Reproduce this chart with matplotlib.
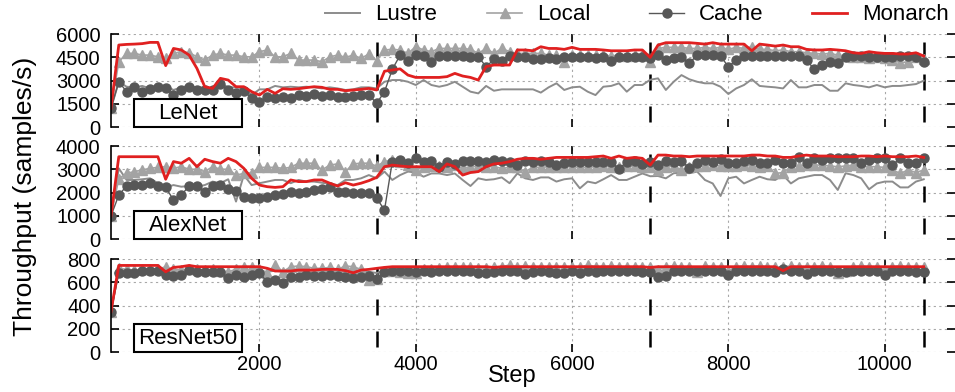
import numpy as np
import matplotlib.pyplot as plt
from matplotlib.patches import Rectangle

plt.rcParams['font.family'] = ['Liberation Sans', 'DejaVu Sans']

# one sample every 100 steps, three epochs of 3500 steps
steps = np.arange(100, 10600, 100)
epoch_ends = [3500, 7000, 10500]

models = ['LeNet', 'AlexNet', 'ResNet50']
yticks = {
    'LeNet': [0, 1500, 3000, 4500, 6000],
    'AlexNet': [0, 1000, 2000, 3000, 4000],
    'ResNet50': [0, 200, 400, 600, 800],
}
xticks = [2000, 4000, 6000, 8000, 10000]

# throughput (samples/s)
lenet_lustre = [
    1200, 2920, 2600, 2560, 2650, 2490, 2560, 2650, 2390, 2560,
    2650, 2560, 2560, 2490, 2820, 2560, 2560, 2490, 2060, 2430,
    2430, 2650, 2560, 2600, 2560, 2600, 2560, 2490, 2560, 2490,
    2390, 2430, 2560, 2560, 2490, 2920, 3030, 3030, 2920, 2710,
    3030, 2710, 2600, 2710, 2920, 2600, 2280, 2170, 2650, 2340,
    2430, 2430, 2430, 2430, 2430, 2220, 2560, 2820, 2390, 2560,
    2600, 2280, 2060, 2600, 2650, 2820, 2280, 2710, 2710, 3050,
    3140, 2390, 2920, 3350, 3080, 2920, 2820, 2820, 2600, 2130,
    2490, 2710, 3080, 2650, 2600, 2560, 2490, 3030, 2560, 2560,
    2710, 2710, 2340, 2340, 2820, 2710, 2650, 2560, 2710, 2560,
    2650, 2650, 2710, 2770, 2990]
lenet_local = [
    1200, 4210, 4750, 4750, 4640, 4640, 4530, 4430, 4750, 4860,
    4790, 4530, 4320, 4640, 4750, 4640, 4640, 4530, 4530, 4860,
    4970, 4530, 4530, 4750, 4320, 4320, 4320, 4210, 4530, 4640,
    4490, 4640, 4430, 4710, 4280, 4970, 5010, 4970, 4750, 5180,
    4970, 4860, 5070, 5070, 5070, 5070, 5010, 4750, 5070, 4750,
    5070, 4860, 4750, 4750, 4750, 4750, 4640, 4640, 4210, 4640,
    4640, 4640, 4640, 4640, 4580, 4640, 4580, 4640, 4640, 4210,
    5070, 5140, 5140, 5140, 5070, 5070, 5140, 5070, 5140, 5010,
    5140, 5070, 5180, 5010, 5010, 4920, 4970, 4860, 4860, 4790,
    4750, 4710, 4750, 4640, 4580, 4490, 4490, 4430, 4490, 4430,
    4320, 4150, 4210, 4490, 4360]
lenet_cache = [
    1200, 2920, 2280, 2560, 2280, 2430, 2560, 2490, 2060, 2390,
    2560, 2390, 2390, 2390, 2770, 2390, 2170, 2340, 1850, 1630,
    1910, 1850, 1960, 1850, 2060, 2000, 2130, 2000, 2060, 1910,
    1960, 2000, 2060, 2060, 1530, 2280, 3720, 4640, 4280, 4640,
    4580, 4210, 4580, 4580, 4580, 4580, 4540, 4540, 3890, 4360,
    4280, 4580, 4540, 4490, 4360, 4360, 4430, 4360, 4540, 4540,
    4540, 4490, 4430, 4490, 4280, 4490, 4540, 4540, 4540, 4430,
    4640, 4320, 4430, 4490, 4110, 4640, 4640, 4640, 4580, 3890,
    4320, 4580, 4580, 4580, 4580, 4580, 4580, 4580, 4580, 4320,
    3720, 4000, 4210, 4110, 4540, 4580, 4580, 4540, 4540, 4540,
    4540, 4580, 4580, 4540, 4210]
lenet_monarch = [
    1200, 5290, 5330, 5350, 5380, 5460, 5460, 3960, 5070, 4970,
    4640, 3780, 2600, 2490, 3140, 3030, 2600, 2600, 2280, 2060,
    2430, 2170, 2470, 2430, 2470, 2540, 2600, 2560, 2430, 2430,
    2340, 2390, 2430, 2490, 2390, 3600, 3680, 3750, 3350, 3200,
    3200, 3200, 3200, 3250, 3460, 3290, 3200, 3030, 3900, 4000,
    4000, 4000, 4970, 4970, 4920, 5180, 5070, 5070, 5010, 5140,
    5010, 5010, 5010, 4970, 4920, 4920, 4920, 4970, 4970, 4490,
    5290, 5440, 5440, 5440, 5440, 5400, 5350, 5440, 5350, 5350,
    5350, 5350, 4920, 5350, 5290, 5220, 5290, 5180, 5180, 5010,
    4970, 4970, 5010, 4970, 4920, 4790, 4750, 4860, 4790, 4750,
    4750, 4710, 4710, 4790, 4580]

alexnet_lustre = [
    990, 3040, 2540, 2540, 2570, 2610, 2400, 2220, 2320, 2250,
    2280, 2250, 2320, 2470, 2400, 2570, 1610, 2750, 2320, 2400,
    2470, 2540, 2540, 2400, 2540, 2470, 2470, 2420, 2370, 2320,
    2540, 2540, 2610, 2750, 2610, 2900, 2540, 2750, 2900, 2860,
    2680, 2820, 2820, 2750, 2820, 2540, 2280, 2610, 2540, 2570,
    2650, 2400, 2820, 2610, 2540, 2650, 2650, 2470, 2570, 2610,
    2180, 2470, 2400, 2570, 2750, 2540, 2540, 2680, 2820, 2700,
    2710, 2610, 2830, 2850, 2830, 2900, 2540, 2390, 1850, 2610,
    2680, 2390, 2540, 2680, 2570, 2540, 2750, 2390, 2610, 2680,
    2750, 2750, 2540, 2110, 2830, 2750, 2610, 2140, 2390, 2470,
    2470, 2220, 2220, 2470, 2570]
alexnet_local = [
    990, 2600, 2820, 2900, 2970, 3040, 3080, 3110, 3040, 3110,
    3000, 3000, 2900, 3110, 3000, 3000, 2750, 2820, 2850, 3080,
    3080, 3080, 3040, 3080, 3260, 3260, 3260, 2970, 3180, 3230,
    2900, 3230, 3260, 3260, 3130, 3330, 3400, 3330, 3180, 2970,
    3110, 3130, 3130, 3110, 3180, 3040, 3110, 3130, 3110, 3110,
    3040, 3080, 3080, 2900, 3080, 3080, 3110, 3110, 3110, 3110,
    3080, 3080, 3110, 3130, 3110, 3110, 3130, 3130, 3080, 3110,
    2970, 3110, 3140, 2970, 3080, 3140, 3140, 3180, 3140, 3140,
    3140, 3180, 3140, 3080, 3140, 2820, 2860, 3110, 3140, 3180,
    3180, 3180, 3140, 3110, 3140, 3180, 3110, 3110, 3110, 3080,
    2970, 2820, 2970, 2860, 2970]
alexnet_cache = [
    990, 1890, 2280, 2320, 2320, 2390, 2280, 2220, 1680, 1890,
    2280, 2280, 2040, 2280, 2320, 2140, 2080, 1820, 1750, 1750,
    1820, 1890, 1940, 2040, 1990, 2040, 2110, 2140, 2250, 2040,
    2040, 1960, 1990, 1960, 1750, 1250, 3330, 3400, 3260, 3470,
    3330, 3370, 3110, 3330, 3230, 3370, 3370, 3370, 3330, 3400,
    3370, 3330, 3180, 3370, 3330, 3370, 3330, 3180, 3260, 3330,
    3330, 3330, 3330, 3330, 3330, 3000, 3330, 3370, 3230, 3330,
    3180, 3370, 3330, 3370, 3040, 3260, 3400, 3330, 3430, 3260,
    3260, 3370, 3400, 3290, 3290, 3400, 3260, 3260, 3510, 3290,
    3470, 3400, 3470, 3470, 3470, 3470, 3260, 3400, 3470, 3470,
    3180, 3470, 3260, 3260, 3470]
alexnet_monarch = [
    990, 3540, 3540, 3540, 3540, 3540, 3540, 2570, 3330, 3260,
    3470, 3110, 3430, 3330, 3260, 3470, 3330, 3040, 2610, 2320,
    2250, 2220, 2250, 2540, 2470, 2470, 2540, 2540, 2400, 2280,
    2420, 2320, 2400, 2510, 2650, 3110, 3180, 3140, 3110, 3110,
    3110, 3110, 2900, 3230, 3110, 2750, 2860, 2900, 3110, 3230,
    3260, 3330, 3430, 3470, 3470, 3430, 3470, 3510, 3510, 3510,
    3510, 3510, 3540, 3570, 3470, 3570, 3470, 3510, 3470, 3180,
    3610, 3610, 3570, 3570, 3540, 3570, 3570, 3570, 3570, 3570,
    3570, 3570, 3610, 3610, 3570, 3570, 3510, 3510, 3570, 3610,
    3570, 3570, 3570, 3540, 3540, 3540, 3570, 3570, 3540, 3570,
    3540, 3540, 3540, 3570, 3510]

resnet_lustre = [
    347, 705, 700, 700, 697, 700, 700, 680, 690, 697,
    700, 700, 697, 700, 690, 680, 690, 700, 700, 697,
    690, 700, 690, 700, 705, 700, 697, 690, 685, 690,
    675, 670, 685, 690, 680, 700, 705, 700, 700, 690,
    700, 705, 700, 700, 700, 700, 705, 700, 700, 705,
    700, 700, 705, 700, 700, 705, 700, 700, 700, 705,
    700, 690, 677, 700, 705, 700, 705, 700, 700, 700,
    700, 695, 700, 705, 700, 690, 700, 700, 695, 690,
    700, 700, 705, 700, 700, 695, 690, 700, 700, 695,
    700, 700, 700, 690, 695, 700, 700, 700, 700, 690,
    700, 700, 700, 695, 700]
resnet_local = [
    347, 720, 711, 705, 711, 711, 711, 734, 711, 705,
    711, 711, 705, 711, 700, 691, 711, 734, 734, 711,
    677, 748, 691, 734, 740, 734, 720, 720, 728, 711,
    740, 734, 711, 622, 625, 700, 700, 691, 682, 677,
    711, 711, 720, 728, 734, 728, 728, 720, 720, 728,
    734, 748, 734, 740, 728, 734, 728, 734, 728, 734,
    728, 748, 734, 734, 740, 734, 734, 734, 728, 734,
    705, 734, 740, 734, 728, 691, 740, 734, 728, 700,
    734, 740, 734, 740, 734, 728, 734, 740, 734, 728,
    734, 740, 734, 677, 700, 734, 740, 734, 734, 705,
    734, 740, 728, 734, 728]
resnet_cache = [
    347, 677, 682, 682, 700, 700, 700, 662, 654, 662,
    705, 691, 691, 691, 691, 634, 662, 642, 662, 677,
    605, 619, 591, 648, 648, 662, 654, 654, 662, 654,
    642, 634, 648, 654, 625, 691, 700, 700, 700, 691,
    700, 691, 700, 700, 700, 700, 700, 682, 682, 691,
    700, 700, 700, 671, 691, 700, 691, 682, 682, 700,
    682, 700, 691, 700, 700, 700, 700, 700, 691, 691,
    648, 654, 700, 700, 700, 700, 700, 700, 700, 662,
    700, 700, 700, 700, 700, 691, 711, 700, 700, 671,
    700, 700, 700, 691, 691, 700, 700, 700, 700, 662,
    700, 700, 700, 691, 691]
resnet_monarch = [
    347, 745, 745, 745, 745, 745, 745, 690, 728, 734,
    745, 734, 734, 734, 734, 734, 734, 734, 734, 734,
    720, 697, 697, 697, 705, 705, 705, 711, 711, 711,
    700, 682, 705, 711, 720, 728, 734, 734, 734, 734,
    734, 734, 734, 734, 734, 734, 734, 734, 734, 728,
    734, 734, 734, 734, 734, 734, 734, 734, 734, 734,
    734, 734, 734, 734, 734, 734, 734, 734, 734, 728,
    734, 734, 734, 734, 734, 734, 734, 734, 734, 734,
    734, 734, 734, 734, 734, 734, 700, 734, 734, 734,
    734, 734, 734, 734, 734, 734, 734, 734, 734, 734,
    734, 734, 734, 734, 734]

data = {
    'LeNet': [lenet_lustre, lenet_local, lenet_cache, lenet_monarch],
    'AlexNet': [alexnet_lustre, alexnet_local, alexnet_cache, alexnet_monarch],
    'ResNet50': [resnet_lustre, resnet_local, resnet_cache, resnet_monarch],
}

series = ['Lustre', 'Local', 'Cache', 'Monarch']
styles = {
    'Lustre': dict(color='#8c8c8c', lw=1.4),
    'Local': dict(color='#a3a3a3', lw=1.2, marker='^', ms=6.5),
    'Cache': dict(color='#575757', lw=1.0, marker='o', ms=6.5),
    'Monarch': dict(color='#e02020', lw=2.0),
}

fig = plt.figure(figsize=(9.55, 3.92), dpi=100)
left, width, height = 0.1162, 0.8838, 0.2372
bottoms = [0.676, 0.3903, 0.102]

handles = []
for i, (name, bottom) in enumerate(zip(models, bottoms)):
    ax = fig.add_axes([left, bottom, width, height])
    for key, vals in zip(series, data[name]):
        ln, = ax.plot(steps, vals, label=key, **styles[key])
        if i == 0:
            handles.append(ln)
    for x in epoch_ends:
        ax.axvline(x, color='black', lw=1.8, linestyle=(10.8, (6.4, 6.4)), zorder=1.5)

    ax.set_xlim(100, 10900)
    ax.set_ylim(yticks[name][0], yticks[name][-1])
    ax.set_yticks(yticks[name])
    ax.set_xticks(xticks)
    ax.grid(True, color='#a8a8a8', linestyle=(0, (2, 3)), lw=0.8)
    ax.set_axisbelow(True)
    for side in ['top', 'right', 'bottom']:
        ax.spines[side].set_visible(False)
    ax.spines['left'].set_linewidth(1.2)
    ax.tick_params(direction='in', top=True, right=True, length=6, width=1.2,
                   labelsize=14.5, labelbottom=(i == 2))
    ax.tick_params(axis='y', pad=7.5)
    ax.tick_params(axis='x', pad=2)

    # model name in a framed box at the lower left
    ax.add_patch(Rectangle((0.027, 0.0), 0.128, 0.30, transform=ax.transAxes,
                           facecolor='white', edgecolor='black', lw=1.5,
                           zorder=5, clip_on=False))
    ax.text(0.091, 0.15, name, transform=ax.transAxes, ha='center', va='center',
            fontsize=16, zorder=6)

fig.text(0.026, 0.5, 'Throughput (samples/s)', rotation=90,
         ha='center', va='center', fontsize=19)
fig.text(0.536, 0.012, 'Step', ha='center', va='bottom', fontsize=17)

legend_x = [325, 487, 649, 812]
for h, x in zip(handles, legend_x):
    fig.legend([h], [h.get_label()], loc='center left',
               bbox_to_anchor=(x / 955, 1 - 15 / 392), frameon=False,
               fontsize=16, handlelength=1.58, handletextpad=0.68,
               borderpad=0, borderaxespad=0)

fig.savefig('out.png', dpi=100)
